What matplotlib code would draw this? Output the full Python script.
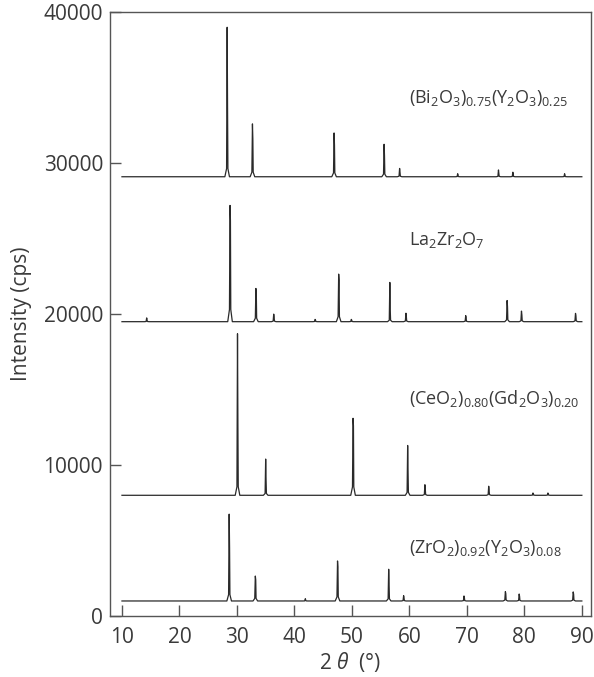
import matplotlib
matplotlib.use("Agg")
import matplotlib.pyplot as plt
import numpy as np

plt.rcParams["font.family"] = ["Open Sans", "DejaVu Sans"]
plt.rcParams["mathtext.fontset"] = "custom"
plt.rcParams["mathtext.rm"] = "Open Sans"
plt.rcParams["mathtext.it"] = "Open Sans:italic"

TXT = "#3a3a3a"
LINE = "#2a2a2a"

# peak tables: position (2theta), top, second line (K-alpha2 / shoulder)
bi_base = 29100
bi_pos = [28.3, 32.7, 46.9, 55.6, 58.3, 68.4, 75.5, 78.0, 87.0]
bi_top = [39000, 32600, 32000, 31250, 29650, 29300, 29550, 29400, 29300]
bi_sec = [33600, 31600, 31200, 30500, 29400, 29200, 29300, 29250, 29200]

la_base = 19500
la_pos = [14.3, 28.8, 33.3, 36.4, 43.6, 47.7, 49.9, 56.6, 59.4, 69.8, 77.0, 79.5, 88.9]
la_top = [19750, 27200, 21700, 20000, 19650, 22650, 19650, 22100, 20060, 19900, 20900, 20200, 20050]
la_sec = [19600, 26200, 21400, 19800, 19600, 22250, 19600, 20300, 19850, 19750, 20500, 19950, 19900]

ce_base = 8000
ce_pos = [30.1, 35.0, 50.2, 59.7, 62.7, 73.8, 81.5, 84.1]
ce_top = [18700, 10400, 13100, 11300, 8700, 8600, 8150, 8150]
ce_sec = [12700, 9000, 12600, 9600, 8400, 8350, 8100, 8100]

zr_base = 1000
zr_pos = [28.65, 33.2, 41.9, 47.5, 56.4, 59.0, 69.5, 76.7, 79.1, 88.5]
zr_top = [6750, 2650, 1150, 3650, 3100, 1350, 1330, 1620, 1460, 1600]
zr_sec = [4500, 2400, 1050, 3250, 2150, 1200, 1200, 1500, 1300, 1450]

labels = [r"$\mathrm{(Bi_2O_3)_{0.75}(Y_2O_3)_{0.25}}$",
          r"$\mathrm{La_2Zr_2O_7}$",
          r"$\mathrm{(CeO_2)_{0.80}(Gd_2O_3)_{0.20}}$",
          r"$\mathrm{(ZrO_2)_{0.92}(Y_2O_3)_{0.08}}$"]
label_y = [34300, 24900, 14400, 4500]


def trace(base, pos, top, sec):
    xs = [10.0]
    ys = [base]
    for p, t, s in zip(pos, top, sec):
        foot = base + 0.12 * (s - base)
        xs += [p - 0.4, p - 0.1, p, p + 0.07, p + 0.13, p + 0.4]
        ys += [base, foot, t, s, foot, base]
    xs.append(90.0)
    ys.append(base)
    return np.array(xs), np.array(ys)


fig = plt.figure(figsize=(5.94, 6.77), dpi=100)
ax = fig.add_axes([0.185, 0.090, 0.810, 0.892])

for b, p, t, s in [(bi_base, bi_pos, bi_top, bi_sec),
                   (la_base, la_pos, la_top, la_sec),
                   (ce_base, ce_pos, ce_top, ce_sec),
                   (zr_base, zr_pos, zr_top, zr_sec)]:
    x, y = trace(b, p, t, s)
    ax.plot(x, y, color=LINE, lw=0.9)

for lab, ly in zip(labels, label_y):
    ax.text(60, ly, lab, fontsize=13, color=TXT, ha="left", va="center")

ax.set_xlim(7.9, 91.6)
ax.set_ylim(0, 40000)
ax.set_xticks(range(10, 91, 10))
ax.set_yticks([0, 10000, 20000, 30000, 40000])

ax.tick_params(axis="both", direction="in", length=8, width=1, colors="#555555",
               labelcolor=TXT, labelsize=15)
ax.tick_params(axis="x", pad=8)
ax.tick_params(axis="y", pad=5)
for sp in ax.spines.values():
    sp.set_color("#555555")
    sp.set_linewidth(1)

ax.set_ylabel("Intensity (cps)", fontsize=15, color=TXT, labelpad=8)
ax.set_xlabel(r"2 $\it{\theta}$  (°)", fontsize=15, color=TXT, labelpad=1)

fig.savefig("out.png", dpi=100)
